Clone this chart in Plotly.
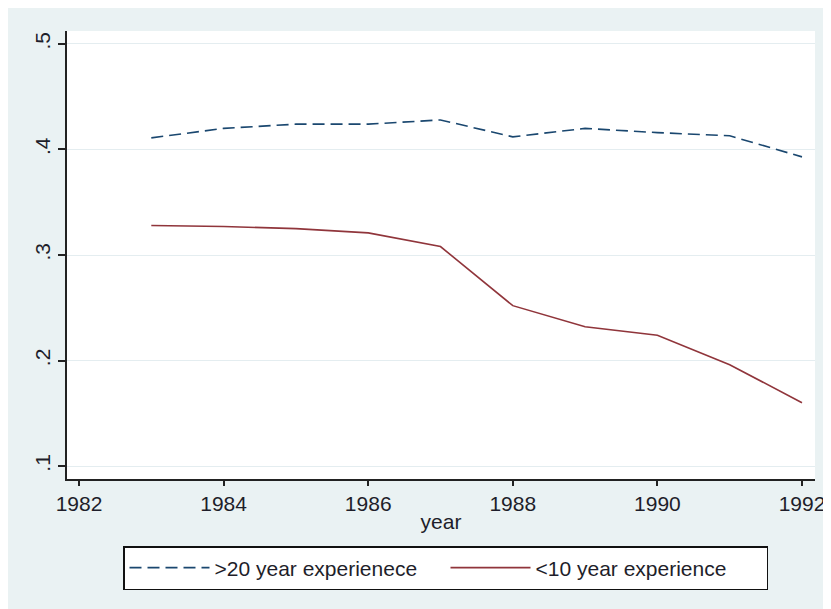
import plotly.graph_objects as go

years = [1983, 1984, 1985, 1986, 1987, 1988, 1989, 1990, 1991, 1992]
exp_over20 = [0.411, 0.420, 0.424, 0.424, 0.428, 0.412, 0.420, 0.416, 0.413, 0.393]
exp_under10 = [0.328, 0.327, 0.325, 0.321, 0.308, 0.252, 0.232, 0.224, 0.196, 0.160]
x_ticks = [1982, 1984, 1986, 1988, 1990, 1992]
y_ticks = [0.1, 0.2, 0.3, 0.4, 0.5]
y_tick_labels = [".1", ".2", ".3", ".4", ".5"]
series_names = [">20 year experienece", "<10 year experience"]

FONT = "Arial, Liberation Sans, sans-serif"
BG = "#EAF2F3"

fig = go.Figure()
fig.add_trace(go.Scatter(x=years, y=exp_over20, mode="lines", name=series_names[0],
                         line=dict(color="#1a476f", width=1.6, dash="12px,6px")))
fig.add_trace(go.Scatter(x=years, y=exp_under10, mode="lines", name=series_names[1],
                         line=dict(color="#90353b", width=1.6)))

OFF = 8  # page body margin
W, H = 831 - OFF, 609 - OFF
L, R, T, B = 67 - OFF, 16, 31 - OFF, 130
pw, ph = W - L - R, H - T - B

def px_x(p):
    return (p - OFF - L) / pw

def px_y(p):
    return (H - B - (p - OFF)) / ph

fig.update_layout(
    width=W, height=H,
    margin=dict(l=L, r=R, t=T, b=B, autoexpand=False),
    paper_bgcolor=BG,
    plot_bgcolor="white",
    font=dict(family=FONT, size=21, color="#1e1e2a"),
    showlegend=True,
    legend=dict(
        orientation="h",
        x=px_x(123), y=px_y(546), xanchor="left", yanchor="top",
        bgcolor="white", bordercolor="#111", borderwidth=1.5,
        font=dict(size=21),
        itemwidth=80,
        entrywidth=226,
        tracegroupgap=0,
    ),
)

fig.update_xaxes(
    range=[1981.834, 1992.18],
    tickvals=x_ticks, ticktext=[str(v) for v in x_ticks],
    ticks="outside", ticklen=5, tickwidth=1.5, tickcolor="#222",
    showline=True, linecolor="#222", linewidth=1.5,
    showgrid=False, zeroline=False,
    title=dict(text="year", standoff=0, font=dict(size=21)),
    tickfont=dict(size=21),
)
fig.update_yaxes(
    range=[0.0877, 0.5123],
    tickvals=y_ticks, ticktext=y_tick_labels,
    tickangle=-90,
    ticks="outside", ticklen=7, tickwidth=1.5, tickcolor="#222",
    showline=True, linecolor="#222", linewidth=1.5,
    showgrid=True, gridcolor="#E4EDF0", gridwidth=1,
    zeroline=False,
    tickfont=dict(size=21),
)

fig.write_html("out.html")
